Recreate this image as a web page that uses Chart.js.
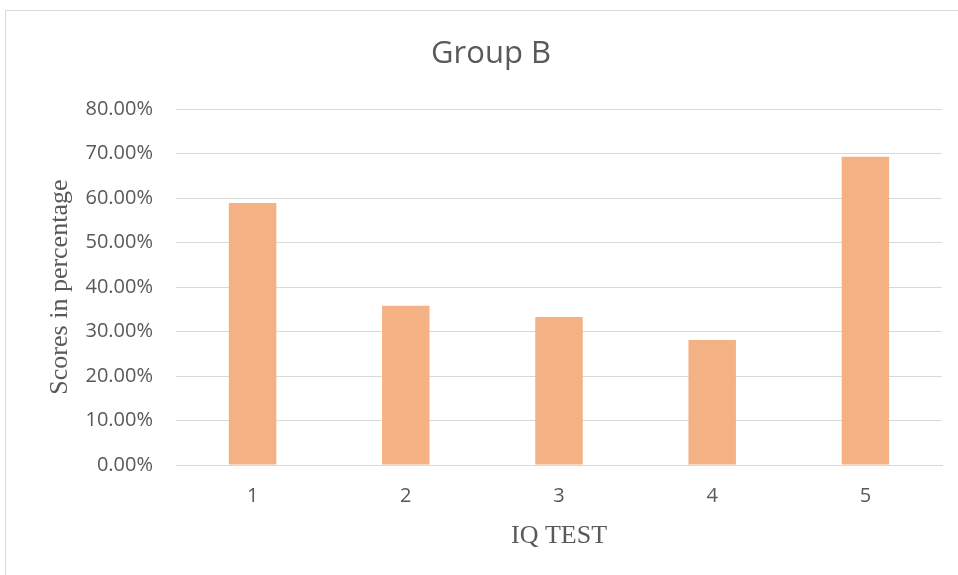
<!DOCTYPE html>
<html>
<head>
<meta charset="utf-8">
<script src="https://cdn.jsdelivr.net/npm/chart.js@4/dist/chart.umd.min.js"></script>
<style>
    html, body { margin: 0; padding: 0; background: #ffffff; }
    #wrap { position: relative; width: 958px; height: 575px; overflow: hidden; }
    #frame {
        position: absolute; left: 5px; top: 10px; width: 980px; height: 600px;
        border-left: 1px solid #d9d9d9; border-top: 1px solid #d9d9d9;
        pointer-events: none;
    }
    canvas { position: absolute; left: 0; top: 0; }
</style>
</head>
<body>
<div id="wrap">
    <canvas id="barChart" width="958" height="575"></canvas>
    <div id="frame"></div>
</div>
<script>
const categories = ['1', '2', '3', '4', '5'];
const scores = [0.589, 0.358, 0.333, 0.281, 0.693];
const yTicks = [0, 0.1, 0.2, 0.3, 0.4, 0.5, 0.6, 0.7, 0.8];

document.addEventListener('DOMContentLoaded', function() {
    const ctx = document.getElementById('barChart').getContext('2d');
    const textColor = '#595959';
    const gridColor = '#d9d9d9';

    new Chart(ctx, {
        type: 'bar',
        data: {
            labels: categories,
            datasets: [{
                label: 'Group B',
                data: scores,
                backgroundColor: '#f4b183',
                categoryPercentage: 1,
                barPercentage: 0.31
            }]
        },
        options: {
            responsive: false,
            animation: false,
            layout: {
                padding: { left: 40, right: 16, top: 0, bottom: 0 }
            },
            plugins: {
                legend: { display: false },
                tooltip: { enabled: false },
                title: {
                    display: true,
                    text: 'Group B',
                    color: textColor,
                    font: { family: 'Open Sans', size: 31, weight: 'normal' },
                    padding: { top: 36, bottom: 36 }
                }
            },
            scales: {
                x: {
                    grid: { display: false, drawTicks: false },
                    border: { display: true, color: gridColor },
                    ticks: {
                        color: textColor,
                        padding: 19,
                        font: { family: 'Open Sans', size: 20 }
                    },
                    title: {
                        display: true,
                        text: 'IQ TEST',
                        color: textColor,
                        font: { family: 'Liberation Serif', size: 26 },
                        padding: { top: 0, bottom: 23 }
                    },
                    afterFit: function(scale) { scale.height = 110; }
                },
                y: {
                    min: 0,
                    max: 0.8,
                    afterBuildTicks: function(scale) {
                        scale.ticks = yTicks.map(v => ({ value: v }));
                    },
                    grid: { color: gridColor, drawTicks: false },
                    border: { display: false },
                    ticks: {
                        color: textColor,
                        padding: 23,
                        font: { family: 'Open Sans', size: 20 },
                        callback: value => (value * 100).toFixed(2) + '%'
                    },
                    title: {
                        display: true,
                        text: 'Scores in percentage',
                        color: textColor,
                        font: { family: 'Liberation Serif', size: 26 },
                        padding: { top: 5, bottom: 0 }
                    },
                    afterFit: function(scale) { scale.width = 136; }
                }
            }
        }
    });
});
</script>
</body>
</html>
